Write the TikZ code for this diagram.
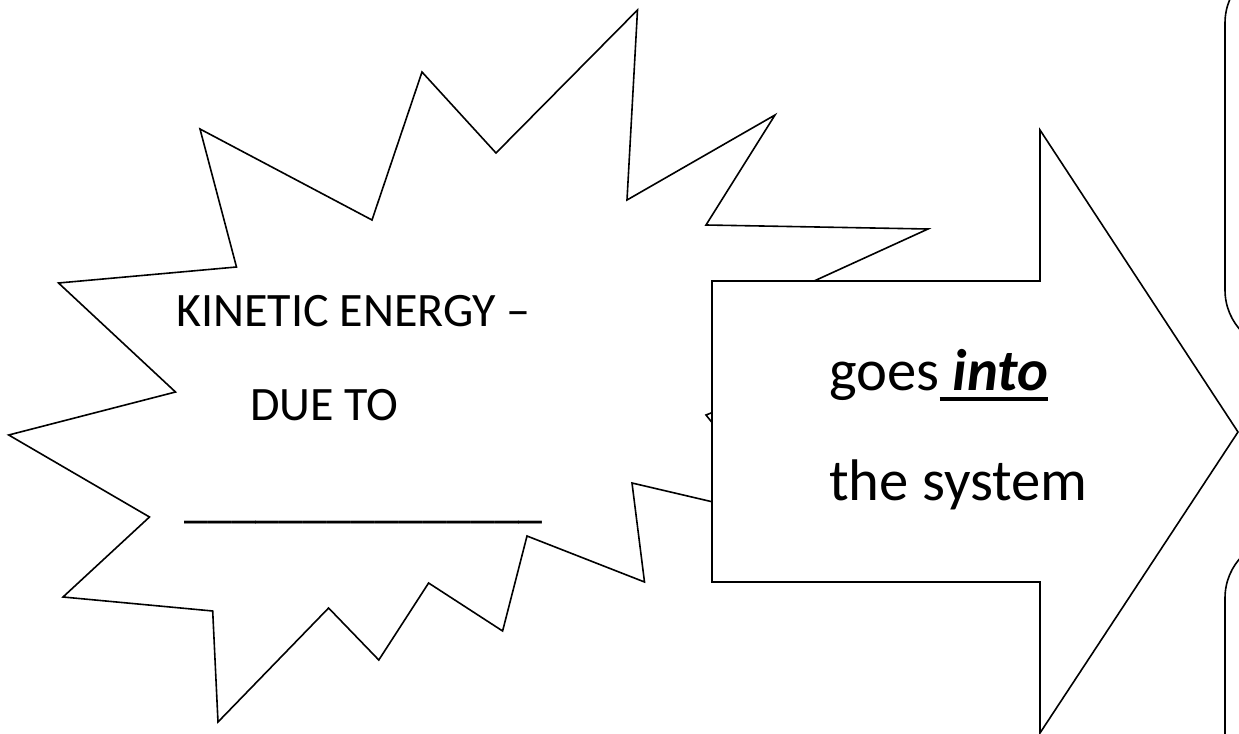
\documentclass[tikz,border=0pt]{standalone}
\usepackage{fontspec}
\setmainfont{Carlito}
\usepackage{tikz}
\usetikzlibrary{positioning}

% thick underline below a word
\newcommand{\thickul}[1]{\setbox0\hbox{#1}\rlap{\rule[-8pt]{\wd0}{2.4pt}}\box0}

\tikzset{
  outline/.style = {draw, line width=1.2pt, line join=miter, fill=white},
  startext/.style = {inner sep=0pt, anchor=base west, font=\fontsize{36}{43}\selectfont},
  arrowtext/.style = {inner sep=0pt, anchor=base west, font=\fontsize{44}{53}\selectfont}
}

\begin{document}
\begin{tikzpicture}[x=0.75pt, y=-0.75pt]
    \useasboundingbox (0,0) rectangle (1239,734);
    \clip (0,0) rectangle (1239,734);

    % explosion
    \draw[outline] (58.5,283) -- (236.5,267) -- (200,129) -- (372,220) -- (422,72)
      -- (496,153) -- (637.5,10) -- (627,200) -- (775,115) -- (706,225)
      -- (928,229) -- (790,292) -- (820,370) -- (706,415) -- (790,520)
      -- (632,483) -- (644.5,582) -- (527,536) -- (502.6,631) -- (428.6,583)
      -- (378.8,660) -- (328.6,608) -- (218,722) -- (212.7,611) -- (63,597)
      -- (149.5,517) -- (8.7,435) -- (175.5,392) -- cycle;

    \node[startext] (kinetic) at (176,327) {KINETIC ENERGY –};
    \node[startext] (dueto) at (250,420) {DUE TO};
    \node[startext] (blank) at (184,517) {\_\_\_\_\_\_\_\_\_\_\_\_\_\_\_};

    % block arrow
    \draw[outline] (712,281) -- (1040,281) -- (1040,130) -- (1238,432)
      -- (1040,733) -- (1040,582) -- (712,582) -- cycle;

    \node[arrowtext] (goes) at (829,390) {goes\thickul{\ \textbf{\textit{into}}}};
    \node[arrowtext] (system) at (829,500) {the system};

    % boxes on the right
    \draw[outline, rounded corners=45pt] (1225,-37) rectangle (1330,350);
    \draw[outline, rounded corners=45pt] (1225,538) rectangle (1330,820);
\end{tikzpicture}
\end{document}
